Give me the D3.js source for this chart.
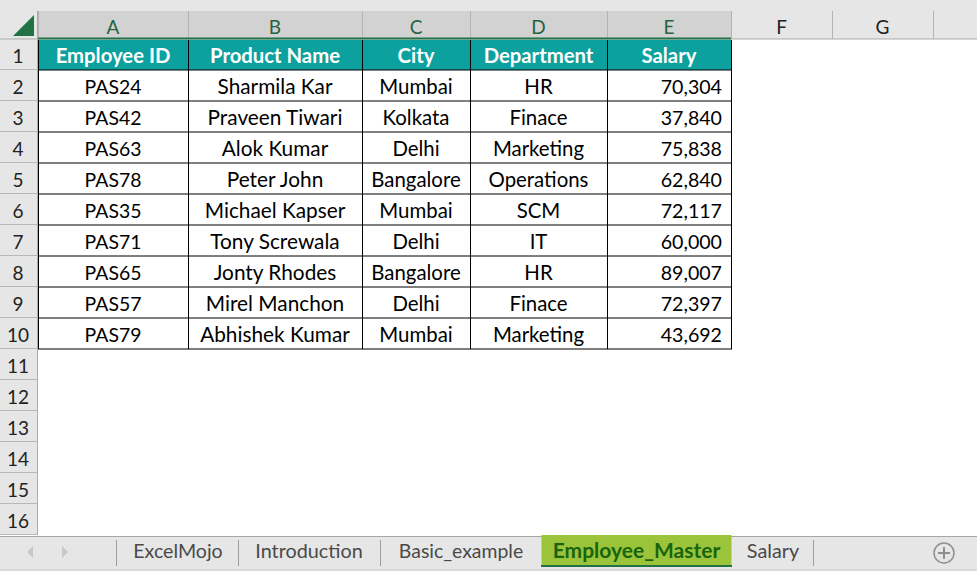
<!DOCTYPE html>
<html>
<head>
<meta charset="utf-8">
<script src="https://cdn.jsdelivr.net/npm/d3@7"></script>
<style>
html, body { margin: 0; padding: 0; background: #fff; overflow: hidden; }
svg { display: block; }
text { font-family: Lato, "Open Sans", sans-serif; }
</style>
</head>
<body>
<div id="sheet"></div>
<script>
// table data
var colLetters = ["A", "B", "C", "D", "E", "F", "G"]
var headers = ["Employee ID", "Product Name", "City", "Department", "Salary"]
var employeeIds = ["PAS24", "PAS42", "PAS63", "PAS78", "PAS35", "PAS71", "PAS65", "PAS57", "PAS79"]
var productNames = ["Sharmila Kar", "Praveen Tiwari", "Alok Kumar", "Peter John", "Michael Kapser", "Tony Screwala", "Jonty Rhodes", "Mirel Manchon", "Abhishek Kumar"]
var cities = ["Mumbai", "Kolkata", "Delhi", "Bangalore", "Mumbai", "Delhi", "Bangalore", "Delhi", "Mumbai"]
var departments = ["HR", "Finace", "Marketing", "Operations", "SCM", "IT", "HR", "Finace", "Marketing"]
var salaries = [70304, 37840, 75838, 62840, 72117, 60000, 89007, 72397, 43692]
var rowNumbers = d3.range(1, 17)
var tabNames = ["ExcelMojo", "Introduction", "Basic_example", "Employee_Master", "Salary"]
var activeTab = "Employee_Master"

var svgSize = { width: 977, height: 571 }

var svg = d3.select("#sheet").append("svg")
    .attr("width", svgSize.width)
    .attr("height", svgSize.height)

// column edges, last one is where G ends
var colEdges = [38, 188, 362, 470, 607, 731, 832, 933]
var xLeft = d3.scaleOrdinal(colLetters, colEdges.slice(0, -1))
var xRight = d3.scaleOrdinal(colLetters, colEdges.slice(1))
var xMid = c => (xLeft(c) + xRight(c)) / 2

var rowH = 31
var yRow = d3.scaleLinear().domain([1, 2]).range([39, 70])
var yMid = r => yRow(r) + rowH / 2

var headerTop = 11
var sheetBottom = yRow(17)
var tableCols = colLetters.slice(0, 5)

// body font differs a bit per column, Lato digits run wider than the original
var bodySize = { A: 19.4, B: 20.8, C: 20.4, D: 20.4, E: 19.6 }

// gray chrome
svg.append("rect").attr("width", svgSize.width).attr("height", 39).attr("fill", "#e6e6e6")
svg.append("rect").attr("y", 0).attr("width", 37).attr("height", sheetBottom).attr("fill", "#e6e6e6")

// selected column headers
svg.append("rect")
    .attr("x", xLeft("A")).attr("y", headerTop)
    .attr("width", xRight("E") - xLeft("A")).attr("height", 39 - headerTop)
    .attr("fill", "#d2d2d2")

// corner triangle
svg.append("path").attr("d", "M34,15 V36 H13 Z").attr("fill", "#217346")

// column heading ticks
svg.append("g").selectAll("line").data(colEdges).enter().append("line")
    .attr("x1", d => d + 0.5).attr("x2", d => d + 0.5)
    .attr("y1", headerTop).attr("y2", 39)
    .attr("stroke", "#b4b4b4")

svg.append("line").attr("x1", 0).attr("x2", svgSize.width).attr("y1", 39).attr("y2", 39)
    .attr("stroke", "#ababab").attr("stroke-width", 1)
svg.append("line").attr("x1", xLeft("A")).attr("x2", xRight("E")).attr("y1", 38.5).attr("y2", 38.5)
    .attr("stroke", "#217346").attr("stroke-width", 2)

svg.append("g").selectAll("text").data(colLetters).enter().append("text")
    .attr("x", d => xMid(d)).attr("y", 34)
    .attr("text-anchor", "middle")
    .attr("font-size", 19)
    .attr("fill", (d, i) => i < 5 ? "#26633f" : "#222")
    .text(d => d)

// row heading
svg.append("line").attr("x1", 37.5).attr("x2", 37.5).attr("y1", headerTop).attr("y2", sheetBottom)
    .attr("stroke", "#ababab")
svg.append("g").selectAll("line").data(rowNumbers).enter().append("line")
    .attr("x1", 0).attr("x2", 37)
    .attr("y1", d => yRow(d + 1) - 0.5).attr("y2", d => yRow(d + 1) - 0.5)
    .attr("stroke", "#b8b8b8")
svg.append("g").selectAll("text").data(rowNumbers).enter().append("text")
    .attr("x", 18).attr("y", d => yMid(d) + 8)
    .attr("text-anchor", "middle")
    .attr("font-size", 19)
    .attr("fill", "#222")
    .text(d => d)

// header row of the table
svg.append("rect")
    .attr("x", xLeft("A")).attr("y", 40)
    .attr("width", xRight("E") - xLeft("A")).attr("height", 30)
    .attr("fill", "#0ca19e")
svg.append("g").selectAll("text").data(headers).enter().append("text")
    .attr("x", (d, i) => xMid(tableCols[i])).attr("y", yMid(1) + 8)
    .attr("text-anchor", "middle")
    .attr("font-size", 20.3)
    .attr("font-weight", 700)
    .attr("fill", "#fff")
    .text(d => d)

// body cells
var rows = employeeIds.map((id, i) => ({
    row: i + 2,
    cells: [id, productNames[i], cities[i], departments[i], d3.format(",")(salaries[i])]
}))

var rowG = svg.append("g").selectAll("g").data(rows).enter().append("g")
rowG.selectAll("text").data(d => d.cells.map((t, i) => ({ t: t, col: tableCols[i], row: d.row })))
    .enter().append("text")
    .attr("x", d => d.col == "E" ? xRight("E") - 9 : xMid(d.col))
    .attr("y", d => yMid(d.row) + 8)
    .attr("text-anchor", d => d.col == "E" ? "end" : "middle")
    .attr("font-size", d => bodySize[d.col])
    .attr("fill", "#000")
    .text(d => d.t)

// table borders
var tableEdges = colEdges.slice(0, 6)
svg.append("g").selectAll("line").data(tableEdges).enter().append("line")
    .attr("x1", d => d + 0.5).attr("x2", d => d + 0.5)
    .attr("y1", 40).attr("y2", yRow(11))
    .attr("stroke", "#000")
svg.append("g").selectAll("line").data(d3.range(2, 12)).enter().append("line")
    .attr("x1", xLeft("A")).attr("x2", xRight("E") + 1)
    .attr("y1", d => yRow(d)).attr("y2", d => yRow(d))
    .attr("stroke", "#000")

// tab bar
svg.append("rect").attr("y", 536).attr("width", svgSize.width).attr("height", 35).attr("fill", "#e6e6e6")
svg.append("line").attr("x1", 0).attr("x2", svgSize.width).attr("y1", 536.5).attr("y2", 536.5).attr("stroke", "#a6a6a6")
svg.append("line").attr("x1", 0).attr("x2", svgSize.width).attr("y1", 570).attr("y2", 570).attr("stroke", "#cfcfcf")

// scroll arrows
svg.append("path").attr("d", "M33,546 L27,552 L33,558 Z").attr("fill", "#c8c8c8")
svg.append("path").attr("d", "M62,546 L68,552 L62,558 Z").attr("fill", "#c8c8c8")

var tabEdges = [117, 239, 381, 541, 732, 814]
var tabSizes = [19.6, 19.8, 19.4, 21, 19.8]
var tabG = svg.append("g").selectAll("g").data(tabNames).enter().append("g")

tabG.filter(d => d == activeTab).append("rect")
    .attr("x", 541.5).attr("y", 535)
    .attr("width", 190).attr("height", 31)
    .attr("fill", "#9cc43a")
tabG.filter(d => d == activeTab).append("line")
    .attr("x1", 541).attr("x2", 732).attr("y1", 566).attr("y2", 566)
    .attr("stroke", "#217346").attr("stroke-width", 2)

tabG.append("text")
    .attr("x", (d, i) => (tabEdges[i] + tabEdges[i + 1]) / 2 - (i == 1 ? 1 : 0))
    .attr("y", 558)
    .attr("text-anchor", "middle")
    .attr("font-size", (d, i) => tabSizes[i])
    .attr("font-weight", d => d == activeTab ? 700 : 400)
    .attr("fill", d => d == activeTab ? "#17650f" : "#4a4a4a")
    .text(d => d)

svg.append("g").selectAll("line").data([117, 239, 381, 814]).enter().append("line")
    .attr("x1", d => d - 0.5).attr("x2", d => d - 0.5)
    .attr("y1", 540).attr("y2", 566)
    .attr("stroke", "#9e9e9e")

// new sheet button
svg.append("circle").attr("cx", 944).attr("cy", 553).attr("r", 10)
    .attr("fill", "none").attr("stroke", "#8f8f8f").attr("stroke-width", 1.5)
svg.append("path").attr("d", "M938,553 H950 M944,547 V559")
    .attr("stroke", "#8f8f8f").attr("stroke-width", 2)
</script>
</body>
</html>
